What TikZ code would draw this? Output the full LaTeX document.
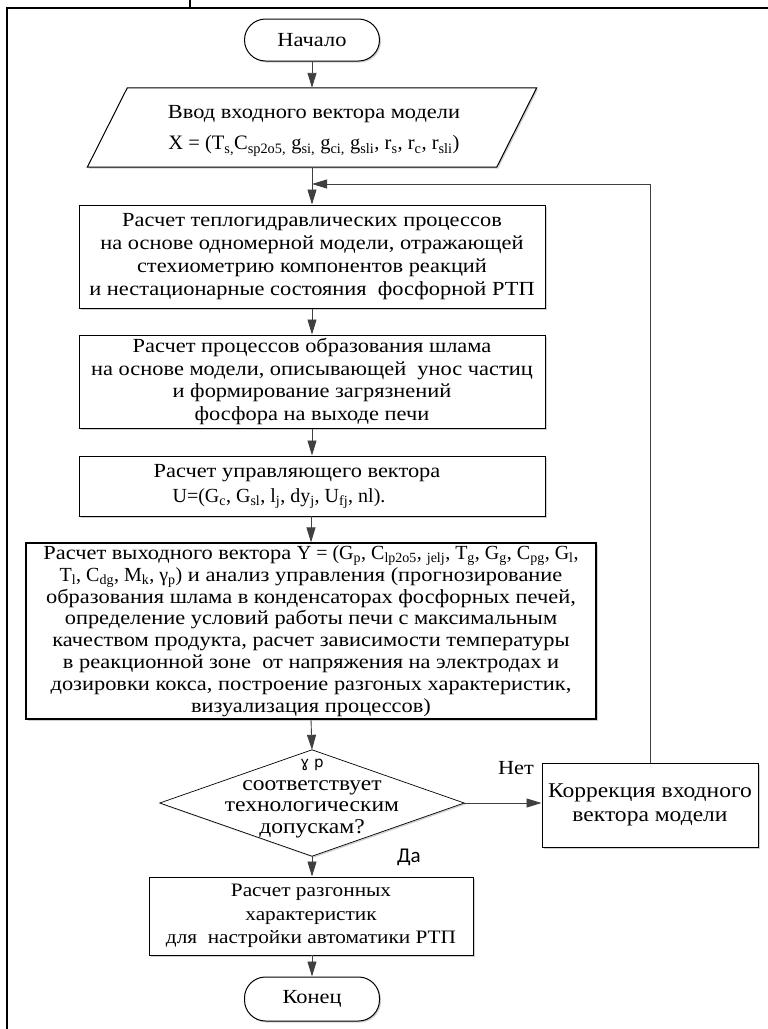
\documentclass[tikz,border=0pt]{standalone}
\usepackage{fontspec}
\setmainfont{Liberation Serif}[FakeStretch=1.12]
\newfontfamily\latf{Liberation Serif}
\newfontfamily\sansf{Carlito}
\newfontfamily\ipaf{DejaVu Sans}
\usetikzlibrary{arrows.meta,shadows}
\newcommand\ssub[1]{\textsubscript{#1}}
\begin{document}
\begin{tikzpicture}[x=1pt,y=-1pt,
  every node/.style={font=\fontsize{20}{23}\selectfont, inner sep=0pt, align=center},
  shad/.style={drop shadow={shadow xshift=1.5pt, shadow yshift=-1.5pt, fill=black!18, opacity=1}},
  blk/.style={draw=black, line width=1pt, fill=white, shad},
  term/.style={blk, rounded corners=21pt, minimum width=135, minimum height=42},
  conn/.style={draw=black!75, line width=0.9pt, -{Triangle[length=15pt,width=9pt]}},
  frame/.style={draw=black, line width=2pt}]
\useasboundingbox (0,0) rectangle (768,1029);
% outer frame
\draw[frame] (190,0) -- (190,8);
\draw[frame] (768,8) -- (7,8) -- (7,1029);
% nodes
\node[term] (start) at (312,40) {Начало};
\node[minimum width=449, minimum height=79] (inp) at (312,127.5) {};
\draw[blk] ([xshift=40pt]inp.north west) -- (inp.north east) -- ([xshift=-40pt]inp.south east) -- (inp.south west) -- cycle;
\node[font=\fontsize{20}{31}\selectfont] (inptxt) at (314,131) {Ввод входного вектора модели\\ {\latf\fontsize{20.5}{31}\selectfont X = (T\ssub{s,}C\ssub{sp2o5,} g\ssub{si,} g\ssub{ci,} g\ssub{sli}, r\ssub{s}, r\ssub{c}, r\ssub{sli})}};
\node[blk, minimum width=466, minimum height=103] (b1) at (312,256.5) {Расчет теплогидравлических процессов\\ на основе одномерной модели, отражающей\\ стехиометрию компонентов реакций\\ и нестационарные состояния~ фосфорной РТП};
\node[blk, minimum width=466, minimum height=93, font=\fontsize{20}{22.5}\selectfont] (b2) at (312,381.5) {Расчет процессов образования шлама\\ на основе модели, описывающей~ унос частиц\\ и формирование загрязнений\\ фосфора на выходе печи};
\node[blk, minimum width=466, minimum height=60, font=\fontsize{20}{25}\selectfont] (b3) at (312,486) {Расчет управляющего вектора\hspace*{30pt}\\ {\latf U=(G\ssub{c}, G\ssub{sl}, l\ssub{j}, dy\ssub{j}, U\ssub{fj}, nl).}\hspace*{66pt}};
\node[blk, line width=1.2pt, minimum width=570, minimum height=176, font=\fontsize{20}{21.8}\selectfont] (b4) at (311,631) {Расчет выходного вектора {\latf Y = (G\ssub{p}, C\ssub{lp2o5}, \ssub{jelj}, T\ssub{g}, G\ssub{g}, C\ssub{pg}, G\ssub{l},}\\ {\latf T\ssub{l}, C\ssub{dg}, M\ssub{k}, γ\ssub{p})} и анализ управления (прогнозирование\\ образования шлама в конденсаторах фосфорных печей,\\ определение условий работы печи с максимальным\\ качеством продукта, расчет зависимости температуры\\ в реакционной зоне~ от напряжения на электродах и\\ дозировки кокса, построение разгоных характеристик,\\ визуализация процессов)};
\node[minimum width=304, minimum height=106] (dec) at (312,803) {};
\draw[blk, line width=0.7pt] (dec.north) -- (dec.east) -- (dec.south) -- (dec.west) -- cycle;
\node[font=\ipaf\fontsize{15}{18}\selectfont] (gam) at (312,765) {ɣ p};
\node[font=\fontsize{21}{21.5}\selectfont] (dectxt) at (312,809) {соответствует\\ технологическим\\ допускам?};
\node[blk, minimum width=216, minimum height=84, font=\fontsize{21}{24}\selectfont] (kor) at (650,805) {Коррекция входного\\ вектора модели};
\node (net) at (516,768) {Нет};
\node[font=\sansf\fontsize{21}{24}\selectfont] (da) at (409,857) {Да};
\node[blk, minimum width=324, minimum height=78, font=\fontsize{19}{23.5}\selectfont] (b5) at (311,916) {Расчет разгонных\\ характеристик\\ для~ настройки автоматики РТП};
\node[term, minimum height=44] (end) at (312,999) {Конец};
\coordinate (fb) at (312,184);
% connectors
\draw[conn] (start.south) -- (inp.north);
\draw[conn] (inp.south) -- (b1.north);
\draw[conn] (b1.south) -- (b2.north);
\draw[conn] (b2.south) -- (b3.north);
\draw[conn] (b3.south) -- (b4.south |- b3.south) -- (b4.north);
\draw[conn] (b4.south) -- (dec.north);
\draw[conn] (dec.south) -- (dec.south |- b5.north);
\draw[conn] (b5.south) -- (b5.south -| end.north) -- (end.north);
\draw[conn] (dec.east) -- (dec.east -| kor.west);
\draw[conn] (kor.north) |- (fb);
\end{tikzpicture}
\end{document}
